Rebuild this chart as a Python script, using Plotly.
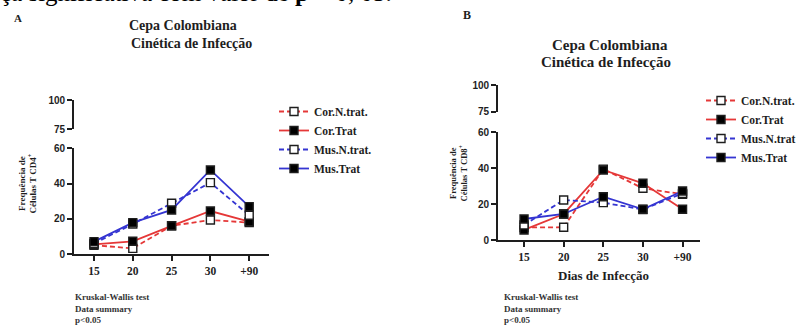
import plotly.graph_objects as go

# ---------------- data ----------------
days = ["15", "20", "25", "30", "+90"]
series_names = ["Cor.N.trat.", "Cor.Trat", "Mus.N.trat.", "Mus.Trat"]
series_names_b = ["Cor.N.trat.", "Cor.Trat", "Mus.N.trat", "Mus.Trat"]

cd4_cor_ntrat = [5.0, 3.2, 16.0, 19.3, 17.8]
cd4_cor_trat = [5.5, 7.2, 16.0, 24.4, 18.4]
cd4_mus_ntrat = [6.0, 17.0, 28.8, 40.5, 22.0]
cd4_mus_trat = [7.0, 17.8, 25.0, 47.7, 26.9]

cd8_cor_ntrat = [7.0, 7.1, 39.5, 28.8, 25.5]
cd8_cor_trat = [5.6, 14.5, 39.0, 31.6, 17.1]
cd8_mus_ntrat = [8.4, 22.3, 20.8, 17.0, 26.0]
cd8_mus_trat = [11.7, 14.5, 24.1, 17.1, 27.3]

lower_ticks = [0, 20, 40, 60]
upper_ticks = [75, 100]

# ---------------- helpers ----------------
W, H = 808, 326
def px(x):
    return x / W
def py(y):
    return 1 - y / H

RED = "#e53838"
BLUE = "#3535d2"
INK = "#1e1e1e"
SERIF = "Times New Roman"
SANS = "Arial"

fig = go.Figure()

def add_series(vals, name, color, dashed, xa, ya, legend):
    fig.add_trace(go.Scatter(
        x=days, y=vals, name=name, mode="lines+markers",
        xaxis=xa, yaxis=ya, legend=legend, cliponaxis=False,
        line=dict(color=color, width=1.8, dash="5px,3px" if dashed else "solid"),
        marker=dict(symbol="square", size=8,
                    color="white" if dashed else "black",
                    line=dict(color=INK, width=1.4)),
    ))

left = [cd4_cor_ntrat, cd4_cor_trat, cd4_mus_ntrat, cd4_mus_trat]
right = [cd8_cor_ntrat, cd8_cor_trat, cd8_mus_ntrat, cd8_mus_trat]
colors = [RED, RED, BLUE, BLUE]
dashes = [True, False, True, False]
for vals, nm, c, d in zip(left, series_names, colors, dashes):
    add_series(vals, nm, c, d, "x", "y", "legend")
for vals, nm, c, d in zip(right, series_names_b, colors, dashes):
    add_series(vals, nm, c, d, "x2", "y2", "legend2")

# empty carriers so the upper (broken) axis segments are drawn
for xa, ya in (("x", "y3"), ("x2", "y4")):
    fig.add_trace(go.Scatter(x=days, y=[None] * len(days), xaxis=xa, yaxis=ya,
                             mode="lines", showlegend=False, hoverinfo="skip"))

axis_common = dict(showline=True, linecolor=INK, linewidth=1.8, showgrid=False,
                   zeroline=False, ticks="outside", ticklen=5, tickwidth=1.6,
                   tickcolor=INK)
xfont = dict(family=SERIF, size=11.5, color=INK, weight="bold")
yfont = dict(family=SANS, size=10, color=INK, weight="bold")

fig.update_layout(
    width=W, height=H,
    margin=dict(l=0, r=0, t=0, b=0, autoexpand=False),
    paper_bgcolor="white", plot_bgcolor="white",
    xaxis=dict(domain=[px(74), px(269)], anchor="y", type="category",
               categoryorder="array", categoryarray=days,
               range=[-0.515, 4.51], tickfont=xfont, **axis_common),
    yaxis=dict(domain=[py(254), py(148.3)], anchor="x", range=[0, 60],
               tickvals=lower_ticks, tickfont=yfont, **axis_common),
    yaxis3=dict(domain=[py(129), py(100)], anchor="x", range=[75, 100],
                tickvals=upper_ticks, tickfont=yfont, **axis_common),
    xaxis2=dict(domain=[px(498), px(700)], anchor="y2", type="category",
                categoryorder="array", categoryarray=days,
                range=[-0.657, 4.44], tickfont=xfont, **axis_common),
    yaxis2=dict(domain=[py(240), py(132.3)], anchor="x2", range=[0, 60],
                tickvals=lower_ticks, tickfont=yfont, **axis_common),
    yaxis4=dict(domain=[py(111.7), py(85)], anchor="x2", range=[75, 100],
                tickvals=upper_ticks, tickfont=yfont, **axis_common),
    legend=dict(x=px(274), y=py(97), xanchor="left", yanchor="top",
                bgcolor="rgba(0,0,0,0)", itemwidth=30, tracegroupgap=0,
                font=dict(family=SERIF, size=11.5, color=INK, weight="bold")),
    legend2=dict(x=px(701), y=py(86), xanchor="left", yanchor="top",
                 bgcolor="rgba(0,0,0,0)", itemwidth=30, tracegroupgap=0,
                 font=dict(family=SERIF, size=11.5, color=INK, weight="bold")),
    showlegend=True,
)

def note(text, x, y, size, xanchor="center", yanchor="middle", angle=0,
         family=SERIF, color=INK, bold=True, align="center"):
    fig.add_annotation(text=text, x=px(x), y=py(y), xref="paper", yref="paper",
                       xanchor=xanchor, yanchor=yanchor, showarrow=False,
                       textangle=angle, align=align,
                       font=dict(family=family, size=size, color=color,
                                 weight="bold" if bold else "normal"))

# cut-off running text at the top of the page
note("ça significativa com valor de <b>p</b> &lt; 0, 05.", -2, -7, 25,
     xanchor="left", bold=False, color="black")

# panel letters
note("A", 18, 18, 11)
note("B", 467, 15, 12)

# titles
note("Cepa Colombiana", 182.5, 26, 14)
note("Cinética de Infecção", 191.5, 43, 14)
note("Cepa Colombiana", 609.5, 45, 15)
note("Cinética de Infecção", 605.5, 62, 15)

# y-axis titles
note("Frequência de<br>Células T CD4<sup>+</sup>", 27.5, 184, 9, angle=-90)
note("Frequência de<br>Células T CD8<sup>+</sup>", 457.5, 173, 8.5, angle=-90)

# x-axis title (panel B)
note("Dias de Infecção", 603, 275, 13)

# statistics notes
stats = "Kruskal-Wallis test<br>Data summary<br>p&lt;0.05"
note(stats, 73, 308, 9, xanchor="left", align="left", color="#333333")
note(stats, 502, 308, 9, xanchor="left", align="left", color="#333333")

fig.write_html("out.html", config={"displayModeBar": False},
               post_script="document.body.style.margin='0';")
